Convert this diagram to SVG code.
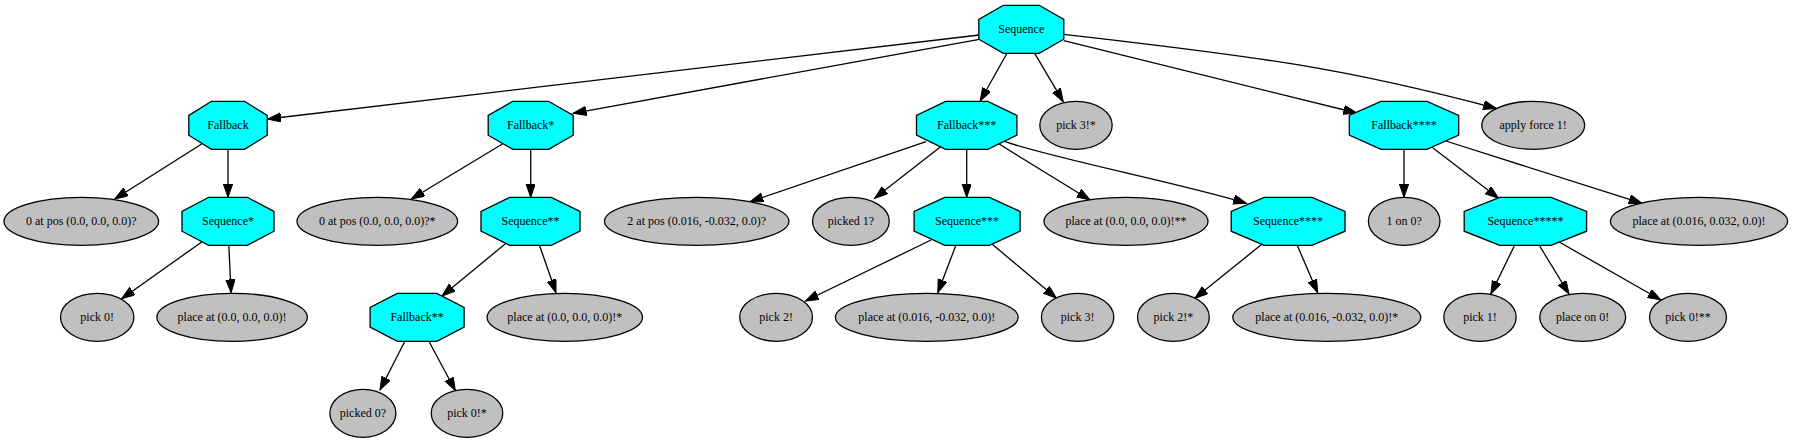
<svg xmlns="http://www.w3.org/2000/svg" width="1793" height="443" viewBox="0 0 1793 443">
<style>
.oct{fill:#00ffff;stroke:#000;stroke-width:1.3}
.ell{fill:#c0c0c0;stroke:#000;stroke-width:1.3}
text{font-family:"Liberation Serif","Times New Roman",serif;font-size:12px;text-anchor:middle;fill:#000}
.e{fill:none;stroke:#000;stroke-width:1.3;marker-end:url(#ah)}
</style>
<defs>
<marker id="ah" markerUnits="userSpaceOnUse" markerWidth="15" markerHeight="11" refX="13.3" refY="4.65" orient="auto">
<path d="M0,0 L13.3,4.65 L0,9.3 Z" fill="#000" stroke="#000" stroke-width="1"/>
</marker>
</defs>
<rect width="1793" height="443" fill="#fff"/>
<g id="edges">
<path class="e" d="M979.3,35 L267.7,119"/>
<path class="e" d="M979.3,39.3 L573.2,113.3"/>
<path class="e" d="M1007,53.3 L980.2,101"/>
<path class="e" d="M1034.7,53.3 L1063.2,101.7"/>
<path class="e" d="M1063.8,40.7 L1356.7,113"/>
<path class="e" d="M1063.8,34.3 C1264,57.1 1346,68.5 1496.5,108.5"/>
<path class="e" d="M201.7,144 L114.8,199"/>
<path class="e" d="M228,149.3 L228,197.3"/>
<path class="e" d="M502.4,144 L411.3,199"/>
<path class="e" d="M530.7,149.3 L530.7,197.3"/>
<path class="e" d="M201.7,242 L121.7,298.7"/>
<path class="e" d="M228.8,245.3 L231.1,292.7"/>
<path class="e" d="M505.1,244 L442,296"/>
<path class="e" d="M539.5,245.3 L556,292.7"/>
<path class="e" d="M404.5,342 L380,390"/>
<path class="e" d="M429.3,342 L455.4,390.7"/>
<path class="e" d="M926,141.7 L750,201.7"/>
<path class="e" d="M940.6,146.7 L874.6,198.3"/>
<path class="e" d="M966.7,149.3 L966.7,197.3"/>
<path class="e" d="M999.1,144 L1090,200"/>
<path class="e" d="M1005,141.7 C1060,160 1180,183 1246.5,203.3"/>
<path class="e" d="M931.1,240 L805.4,301"/>
<path class="e" d="M955.6,246 L937.8,292.7"/>
<path class="e" d="M992,244 L1056.5,298.3"/>
<path class="e" d="M1262.1,244 L1194.9,298.3"/>
<path class="e" d="M1297.3,245.3 L1317.6,292.7"/>
<path class="e" d="M1404,149.3 L1404,197.3"/>
<path class="e" d="M1431.4,146.7 L1498.6,198.3"/>
<path class="e" d="M1445.8,141 L1642.1,203.3"/>
<path class="e" d="M1514.3,246 L1490.8,294"/>
<path class="e" d="M1539.7,246 L1569,294"/>
<path class="e" d="M1559.2,242 L1660.9,300"/>
</g>
<g id="n_root"><polygon class="oct" points="1003.4,5.3 1039.2,5.3 1063.8,19.4 1063.8,39.2 1039.2,53.3 1003.4,53.3 978.8,39.2 978.8,19.4"/><text x="1021.3" y="33.3">Sequence</text></g>
<g id="n_fb"><polygon class="oct" points="211.5,101.3 244.5,101.3 267.2,115.4 267.2,135.2 244.5,149.3 211.5,149.3 188.8,135.2 188.8,115.4"/><text x="228" y="129.3">Fallback</text></g>
<g id="n_fb1"><polygon class="oct" points="512.8,101.3 548.6,101.3 573.2,115.4 573.2,135.2 548.6,149.3 512.8,149.3 488.2,135.2 488.2,115.4"/><text x="530.7" y="129.3">Fallback*</text></g>
<g id="n_fb3"><polygon class="oct" points="945.6,101.3 987.8,101.3 1016.9,115.4 1016.9,135.2 987.8,149.3 945.6,149.3 916.5,135.2 916.5,115.4"/><text x="966.7" y="129.3">Fallback***</text></g>
<g id="n_pick3s"><ellipse class="ell" cx="1076" cy="125.3" rx="36.2" ry="24"/><text x="1076" y="129.3">pick 3!*</text></g>
<g id="n_fb4"><polygon class="oct" points="1381,101.3 1427,101.3 1458.7,115.4 1458.7,135.2 1427,149.3 1381,149.3 1349.3,135.2 1349.3,115.4"/><text x="1404" y="129.3">Fallback****</text></g>
<g id="n_force"><ellipse class="ell" cx="1533.2" cy="125.3" rx="51.4" ry="24"/><text x="1533.2" y="129.3">apply force 1!</text></g>
<g id="n_pos0"><ellipse class="ell" cx="81.3" cy="221.3" rx="77.3" ry="24"/><text x="81.3" y="225.3">0 at pos (0.0, 0.0, 0.0)?</text></g>
<g id="n_seq1"><polygon class="oct" points="208.7,197.3 247.3,197.3 274,211.4 274,231.2 247.3,245.3 208.7,245.3 182,231.2 182,211.4"/><text x="228" y="225.3">Sequence*</text></g>
<g id="n_pos0s"><ellipse class="ell" cx="377.3" cy="221.3" rx="80.3" ry="24"/><text x="377.3" y="225.3">0 at pos (0.0, 0.0, 0.0)?*</text></g>
<g id="n_seq2"><polygon class="oct" points="509.7,197.3 551.3,197.3 580,211.4 580,231.2 551.3,245.3 509.7,245.3 481,231.2 481,211.4"/><text x="530.5" y="225.3">Sequence**</text></g>
<g id="n_pos2"><ellipse class="ell" cx="696.7" cy="221.3" rx="92.2" ry="24"/><text x="696.7" y="225.3">2 at pos (0.016, -0.032, 0.0)?</text></g>
<g id="n_picked1"><ellipse class="ell" cx="850.9" cy="221.3" rx="38.4" ry="24"/><text x="850.9" y="225.3">picked 1?</text></g>
<g id="n_seq3"><polygon class="oct" points="944.8,197.3 989.4,197.3 1020.1,211.4 1020.1,231.2 989.4,245.3 944.8,245.3 914.1,231.2 914.1,211.4"/><text x="967.1" y="225.3">Sequence***</text></g>
<g id="n_place0ss"><ellipse class="ell" cx="1126" cy="221.3" rx="82" ry="24"/><text x="1126" y="225.3">place at (0.0, 0.0, 0.0)!**</text></g>
<g id="n_seq4"><polygon class="oct" points="1264.2,197.3 1312,197.3 1345,211.4 1345,231.2 1312,245.3 1264.2,245.3 1231.2,231.2 1231.2,211.4"/><text x="1288.1" y="225.3">Sequence****</text></g>
<g id="n_1on0"><ellipse class="ell" cx="1404.2" cy="221.3" rx="35.8" ry="24"/><text x="1404.2" y="225.3">1 on 0?</text></g>
<g id="n_seq5"><polygon class="oct" points="1499.7,197.3 1551.1,197.3 1586.6,211.4 1586.6,231.2 1551.1,245.3 1499.7,245.3 1464.2,231.2 1464.2,211.4"/><text x="1525.4" y="225.3">Sequence*****</text></g>
<g id="n_place3"><ellipse class="ell" cx="1699" cy="221.3" rx="88.6" ry="24"/><text x="1699" y="225.3">place at (0.016, 0.032, 0.0)!</text></g>
<g id="n_pick0"><ellipse class="ell" cx="97.2" cy="317.3" rx="36.7" ry="24"/><text x="97.2" y="321.3">pick 0!</text></g>
<g id="n_place0"><ellipse class="ell" cx="232.1" cy="317.3" rx="75.2" ry="24"/><text x="232.1" y="321.3">place at (0.0, 0.0, 0.0)!</text></g>
<g id="n_fb2"><polygon class="oct" points="397.4,293.3 436.8,293.3 464.1,307.4 464.1,327.2 436.8,341.3 397.4,341.3 370.1,327.2 370.1,307.4"/><text x="417.1" y="321.3">Fallback**</text></g>
<g id="n_place0s"><ellipse class="ell" cx="564.8" cy="317.3" rx="77.7" ry="24"/><text x="564.8" y="321.3">place at (0.0, 0.0, 0.0)!*</text></g>
<g id="n_pick2"><ellipse class="ell" cx="776.1" cy="317.3" rx="36.4" ry="24"/><text x="776.1" y="321.3">pick 2!</text></g>
<g id="n_place2"><ellipse class="ell" cx="926.8" cy="317.3" rx="91.4" ry="24"/><text x="926.8" y="321.3">place at (0.016, -0.032, 0.0)!</text></g>
<g id="n_pick3"><ellipse class="ell" cx="1077.6" cy="317.3" rx="36.2" ry="24"/><text x="1077.6" y="321.3">pick 3!</text></g>
<g id="n_pick2s"><ellipse class="ell" cx="1173.4" cy="317.3" rx="35.9" ry="24"/><text x="1173.4" y="321.3">pick 2!*</text></g>
<g id="n_place2s"><ellipse class="ell" cx="1326.8" cy="317.3" rx="94" ry="24"/><text x="1326.8" y="321.3">place at (0.016, -0.032, 0.0)!*</text></g>
<g id="n_pick1"><ellipse class="ell" cx="1480" cy="317.3" rx="36.2" ry="24"/><text x="1480" y="321.3">pick 1!</text></g>
<g id="n_placeon0"><ellipse class="ell" cx="1582.7" cy="317.3" rx="43" ry="24"/><text x="1582.7" y="321.3">place on 0!</text></g>
<g id="n_pick0ss"><ellipse class="ell" cx="1688" cy="317.3" rx="38.5" ry="24"/><text x="1688" y="321.3">pick 0!**</text></g>
<g id="n_picked0"><ellipse class="ell" cx="362.9" cy="413.3" rx="33" ry="24"/><text x="362.9" y="417.3">picked 0?</text></g>
<g id="n_pick0s"><ellipse class="ell" cx="467" cy="413.3" rx="35.8" ry="24"/><text x="467" y="417.3">pick 0!*</text></g>
</svg>
